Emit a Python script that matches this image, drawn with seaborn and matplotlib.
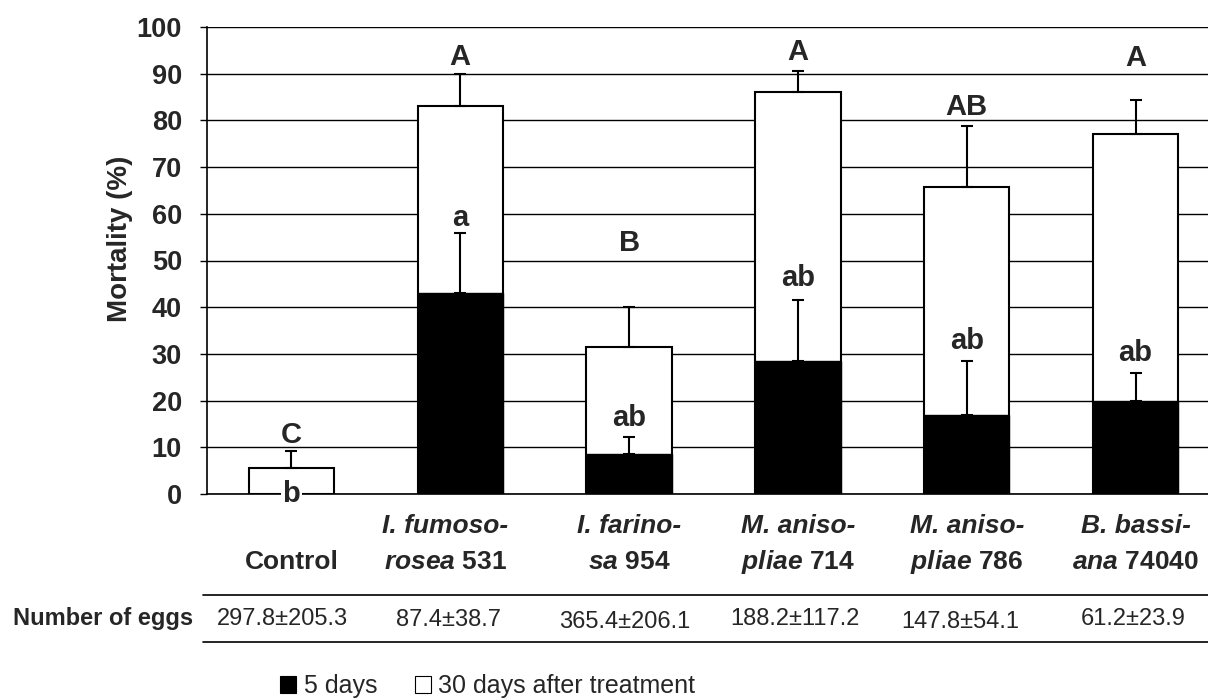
import matplotlib
matplotlib.use("Agg")
import matplotlib.pyplot as plt
import matplotlib.transforms as mtransforms
from matplotlib.lines import Line2D
from matplotlib.patches import Patch
import seaborn as sns
import pandas as pd

# --- datos ---
cepas = ["Control", "I. fumosorosea 531", "I. farinosa 954",
         "M. anisopliae 714", "M. anisopliae 786", "B. bassiana 74040"]
mort_5d = [0, 43, 8.5, 28.5, 17, 20]
err_5d = [0, 12.8, 3.7, 13, 11.5, 6]
mort_30d = [5.6, 83, 31.5, 86, 65.7, 77]
err_30d = [3.6, 7, 8.5, 4.5, 13, 7.4]
letras_5d = ["b", "a", "ab", "ab", "ab", "ab"]
letras_30d = ["C", "A", "B", "A", "AB", "A"]
etiqueta_l1 = ["", "I. fumoso-", "I. farino-", "M. aniso-", "M. aniso-", "B. bassi-"]
etiqueta_l2 = ["Control", r"$\mathbfit{rosea}$ 531", r"$\mathbfit{sa}$ 954",
               r"$\mathbfit{pliae}$ 714", r"$\mathbfit{pliae}$ 786", r"$\mathbfit{ana}$ 74040"]
huevos = ["297.8±205.3", "87.4±38.7", "365.4±206.1",
          "188.2±117.2", "147.8±54.1", "61.2±23.9"]

df = pd.DataFrame({"cepa": cepas, "d5": mort_5d, "d30": mort_30d})

sns.set_style("white")
plt.rcParams['font.family'] = ['Liberation Sans', 'DejaVu Sans']
plt.rcParams['mathtext.fontset'] = 'custom'
plt.rcParams['mathtext.bfit'] = 'Liberation Sans:italic:bold'
plt.rcParams['mathtext.bf'] = 'Liberation Sans:bold'

W, H = 1208, 700
fig = plt.figure(figsize=(W / 100, H / 100), dpi=100)
ax = fig.add_axes([207 / W, 1 - 494 / H, (1220 - 207) / W, (494 - 27) / H])

# barras: 30 dias (blanco) y 5 dias (negro)
sns.barplot(data=df, x="cepa", y="d30", color="white", edgecolor="black",
            linewidth=1.5, width=0.505, saturation=1, ax=ax, zorder=2)
sns.barplot(data=df, x="cepa", y="d5", color="black", edgecolor="black",
            linewidth=1.0, width=0.505, saturation=1, ax=ax, zorder=3)

xs = list(range(len(cepas)))
ax.errorbar(xs, mort_30d, yerr=[[0] * 6, err_30d], fmt="none", ecolor="black",
            elinewidth=1.5, capsize=4.3, capthick=1.5, zorder=4)
idx = [i for i in xs if err_5d[i] > 0]
ax.errorbar([xs[i] for i in idx], [mort_5d[i] for i in idx],
            yerr=[[0] * len(idx), [err_5d[i] for i in idx]], fmt="none",
            ecolor="black", elinewidth=1.5, capsize=4.3, capthick=1.5, zorder=4)

# letras
pos_30 = [12.6, 93.6, 53.7, 94.6, 82.9, 93.3]
pos_5 = [0, 59.1, 16.2, 46.3, 32.8, 30.2]
for i in xs:
    ax.text(i, pos_30[i], letras_30d[i], ha="center", va="center",
            fontsize=21, fontweight="bold", zorder=5)
    if i == 0:
        ax.text(i, pos_5[i], letras_5d[i], ha="center", va="center",
                fontsize=21, fontweight="bold", zorder=5, clip_on=False,
                bbox=dict(facecolor="white", edgecolor="none", pad=1))
    else:
        ax.text(i, pos_5[i], letras_5d[i], ha="center", va="center",
                fontsize=21, fontweight="bold", zorder=5)

# ejes
ax.set_xlim(-0.5, 5.5)
ax.set_ylim(0, 100)
ax.set_yticks(range(0, 101, 10))
ax.set_yticklabels([str(v) for v in range(0, 101, 10)], fontsize=19.5, fontweight="bold")
ax.set_xticks([])
ax.set_xticks([i - 0.5 for i in range(7)], minor=True)
ax.tick_params(axis="x", which="minor", direction="out", length=5, width=1, color="black")
ax.tick_params(axis="y", direction="out", length=5, width=1, color="black", pad=13, left=True)
ax.grid(axis="y", color="black", linewidth=1.0)
ax.set_axisbelow(True)
for s in ["top", "right"]:
    ax.spines[s].set_visible(False)
for s in ["left", "bottom"]:
    ax.spines[s].set_color("black")
    ax.spines[s].set_linewidth(1.2)
ax.set_xlabel("")
ax.set_ylabel("")
fig.text(120 / W, 1 - 239 / H, "Mortality (%)", rotation=90, ha="center",
         va="center", fontsize=20, fontweight="bold")

# etiquetas de categorias y tabla
trans = mtransforms.blended_transform_factory(ax.transData, fig.transFigure)
dx_lab = [0, -0.09, 0, 0, 0, 0]
for i in xs:
    if etiqueta_l1[i]:
        fig.text(i + dx_lab[i], 1 - 526 / H, etiqueta_l1[i], transform=trans,
                 ha="center", va="center", fontsize=19, fontweight="bold",
                 fontstyle="italic")
    fig.text(i + dx_lab[i], 1 - 562 / H, etiqueta_l2[i], transform=trans,
             ha="center", va="center", fontsize=19, fontweight="bold")

dx_egg = [-0.056, -0.072, -0.024, -0.016, -0.039, -0.014]
dy_egg = [619, 620, 622, 619, 622, 619]
for i in xs:
    fig.text(i + dx_egg[i], 1 - dy_egg[i] / H, huevos[i], transform=trans,
             ha="center", va="center", fontsize=17)
fig.text(13 / W, 1 - 619 / H, "Number of eggs", ha="left", va="center",
         fontsize=17, fontweight="bold")

for yy in [594.5, 642]:
    fig.add_artist(Line2D([203 / W, 1.0], [1 - yy / H] * 2, transform=fig.transFigure,
                          color="black", linewidth=1.2))

# leyenda
handles = [Patch(facecolor="black", edgecolor="black", linewidth=0.8),
           Patch(facecolor="white", edgecolor="black", linewidth=0.8)]
fig.legend(handles, ["5 days", "30 days after treatment"], loc="center left",
           bbox_to_anchor=(280 / W, 1 - 686 / H), ncol=2, frameon=False,
           fontsize=18, handlelength=0.65, handleheight=0.65, handletextpad=0.3,
           columnspacing=1.5, borderaxespad=0, borderpad=0)

fig.savefig("out.png", dpi=100)
